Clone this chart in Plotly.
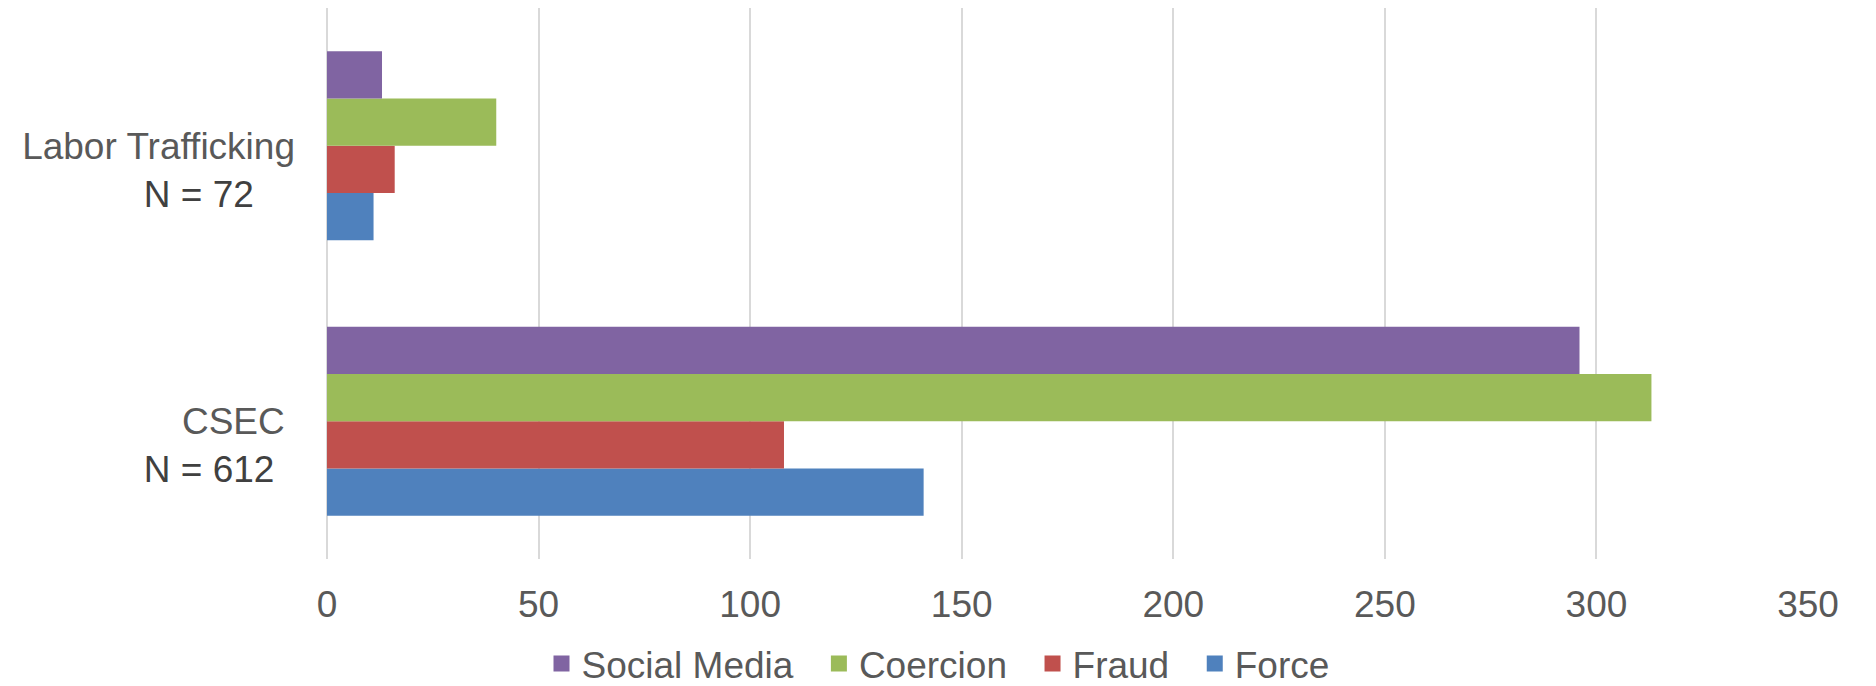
import plotly.graph_objects as go

# ---- data ----
categories = ["CSEC", "Labor Trafficking"]
n_values = [612, 72]
series_names = ["Force", "Fraud", "Coercion", "Social Media"]
force = [141, 11]
fraud = [108, 16]
coercion = [313, 40]
social_media = [296, 13]
x_ticks = [0, 50, 100, 150, 200, 250, 300, 350]

colors = {
    "Force": "#4F81BD",
    "Fraud": "#C0504D",
    "Coercion": "#9BBB59",
    "Social Media": "#8064A2",
}
values = {"Force": force, "Fraud": fraud, "Coercion": coercion, "Social Media": social_media}

# label padding (non-breaking spaces) to mimic the original alignment
pad_first = {"CSEC": 1, "Labor Trafficking": 0}
pad_second = {"CSEC": 2, "Labor Trafficking": 4}

ticktext = []
for c, n in zip(categories, n_values):
    l1 = c + "&nbsp;" * pad_first[c]
    l2 = "<span style='color:#404040'>N = %d</span>" % n + "&nbsp;" * pad_second[c]
    ticktext.append("<br>" + l1 + "<br>" + l2)

FONT = "Liberation Sans, Arial, sans-serif"
FS = 37

fig = go.Figure()
for name in series_names:
    fig.add_trace(go.Bar(
        name=name,
        y=categories,
        x=values[name],
        orientation="h",
        marker=dict(color=colors[name], line=dict(width=0)),
        showlegend=False,
    ))

# legend entries (larger square swatches, like the original)
legend_order = ["Social Media", "Coercion", "Fraud", "Force"]
for i, name in enumerate(legend_order):
    label = name + ("&nbsp;&nbsp;" if i < len(legend_order) - 1 else "")
    fig.add_trace(go.Scatter(
        name=label,
        x=[None],
        y=[None],
        mode="markers",
        marker=dict(symbol="square", size=18, color=colors[name]),
        showlegend=True,
        hoverinfo="skip",
    ))

fig.update_layout(
    width=1876,
    height=686,
    barmode="group",
    bargap=0.314,
    bargroupgap=0,
    plot_bgcolor="white",
    paper_bgcolor="white",
    margin=dict(l=327, r=68, t=8, b=127),
    font=dict(family=FONT, size=FS, color="#595959"),
    showlegend=True,
    legend=dict(
        orientation="h",
        traceorder="normal",
        xref="container",
        yref="container",
        x=0.5,
        xanchor="center",
        y=1 - 664 / 686,
        yanchor="middle",
        font=dict(family=FONT, size=FS, color="#595959"),
        itemwidth=30,
        bgcolor="rgba(0,0,0,0)",
    ),
    xaxis=dict(
        range=[0, 350],
        tickvals=x_ticks,
        ticktext=[str(v) for v in x_ticks],
        showgrid=True,
        gridcolor="#D9D9D9",
        gridwidth=2,
        zeroline=True,
        zerolinecolor="#D9D9D9",
        zerolinewidth=2,
        showline=False,
        ticks="",
        ticklabelstandoff=20,
        tickfont=dict(family=FONT, size=FS, color="#595959"),
        fixedrange=True,
    ),
    yaxis=dict(
        type="category",
        categoryorder="array",
        categoryarray=categories,
        tickvals=categories,
        ticktext=ticktext,
        showgrid=False,
        zeroline=False,
        showline=False,
        ticks="",
        ticklabelstandoff=31,
        tickfont=dict(family=FONT, size=FS, color="#595959"),
        fixedrange=True,
    ),
)

fig.write_html(
    "out.html",
    config={"displayModeBar": False},
    post_script="document.body.style.margin='0';document.body.style.overflow='hidden';",
)
